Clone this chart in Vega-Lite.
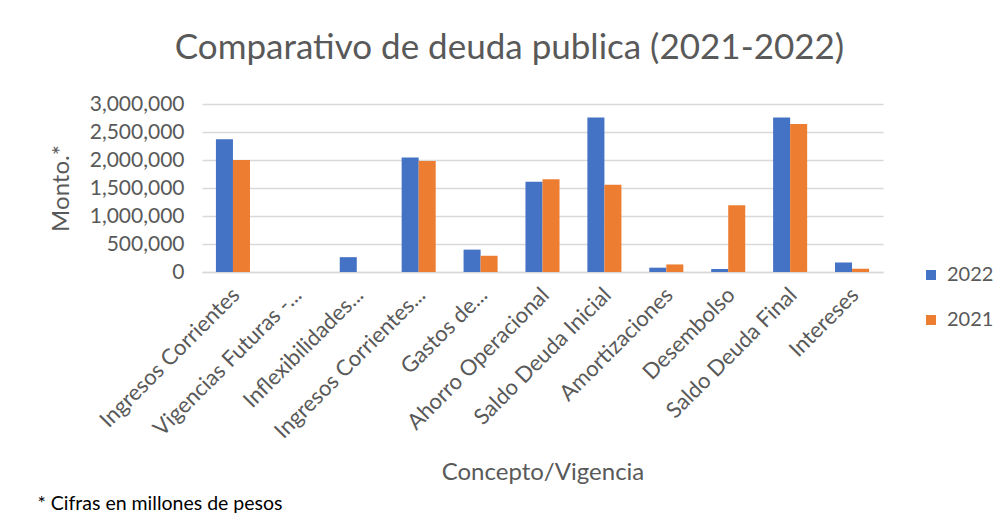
{
  "$schema": "https://vega.github.io/schema/vega-lite/v6.json",
  "width": 681,
  "height": 168,
  "autosize": {"type": "none"},
  "padding": {"left": 202, "top": 104, "right": 122, "bottom": 244},
  "background": "white",
  "config": {
    "font": "Lato",
    "view": {"stroke": null},
    "axis": {"labelColor": "#595959", "titleColor": "#595959", "titleFontWeight": "normal"}
  },
  "title": {
    "text": "Comparativo de deuda publica (2021-2022)",
    "fontSize": 35,
    "font": "Lato",
    "fontWeight": "normal",
    "color": "#595959",
    "anchor": "middle",
    "frame": "group",
    "dx": -33,
    "offset": 27
  },
  "data": {
    "values": [
      {"concepto": "Ingresos Corrientes", "year": "2022", "monto": 2370000},
      {"concepto": "Ingresos Corrientes", "year": "2021", "monto": 2000000},
      {"concepto": "Vigencias Futuras -...", "year": "2022", "monto": 0},
      {"concepto": "Vigencias Futuras -...", "year": "2021", "monto": 0},
      {"concepto": "Inflexibilidades...", "year": "2022", "monto": 265000},
      {"concepto": "Inflexibilidades...", "year": "2021", "monto": 0},
      {"concepto": "Ingresos Corrientes...", "year": "2022", "monto": 2045000},
      {"concepto": "Ingresos Corrientes...", "year": "2021", "monto": 1980000},
      {"concepto": "Gastos de...", "year": "2022", "monto": 400000},
      {"concepto": "Gastos de...", "year": "2021", "monto": 290000},
      {"concepto": "Ahorro Operacional", "year": "2022", "monto": 1610000},
      {"concepto": "Ahorro Operacional", "year": "2021", "monto": 1655000},
      {"concepto": "Saldo Deuda Inicial", "year": "2022", "monto": 2760000},
      {"concepto": "Saldo Deuda Inicial", "year": "2021", "monto": 1560000},
      {"concepto": "Amortizaciones", "year": "2022", "monto": 77000},
      {"concepto": "Amortizaciones", "year": "2021", "monto": 135000},
      {"concepto": "Desembolso", "year": "2022", "monto": 55000},
      {"concepto": "Desembolso", "year": "2021", "monto": 1190000},
      {"concepto": "Saldo Deuda Final", "year": "2022", "monto": 2760000},
      {"concepto": "Saldo Deuda Final", "year": "2021", "monto": 2645000},
      {"concepto": "Intereses", "year": "2022", "monto": 170000},
      {"concepto": "Intereses", "year": "2021", "monto": 58000}
    ]
  },
  "layer": [
    {
      "mark": {"type": "bar"},
      "encoding": {
        "x": {
          "field": "concepto",
          "type": "nominal",
          "sort": null,
          "scale": {"paddingInner": 0.45, "paddingOuter": 0.225},
          "axis": {
            "orient": "bottom",
            "title": "Concepto/Vigencia",
            "titleFontSize": 24,
            "titlePadding": 18,
            "labelAngle": -45,
            "labelAlign": "right",
            "labelBaseline": "top",
            "labelFontSize": 22,
            "labelPadding": 12,
            "labelOffset": -4,
            "labelLimit": 300,
            "ticks": false,
            "domain": true,
            "domainColor": "#D9D9D9",
            "domainWidth": 1.5,
            "grid": false
          }
        },
        "xOffset": {"field": "year", "type": "nominal", "sort": ["2022", "2021"]},
        "y": {
          "field": "monto",
          "type": "quantitative",
          "scale": {"domain": [0, 3000000], "nice": false},
          "axis": {
            "title": "Monto.*",
            "titleFontSize": 24,
            "titlePadding": 16,
            "values": [0, 500000, 1000000, 1500000, 2000000, 2500000, 3000000],
            "format": ",.0f",
            "labelFontSize": 21,
            "labelPadding": 18,
            "ticks": false,
            "domain": false,
            "grid": true,
            "gridColor": "#D9D9D9",
            "gridWidth": 1.5
          }
        },
        "color": {
          "field": "year",
          "type": "nominal",
          "scale": {"domain": ["2022", "2021"], "range": ["#4472C4", "#ED7D31"]},
          "legend": {
            "title": null,
            "orient": "none",
            "legendX": 719,
            "legendY": 161,
            "padding": 0,
            "symbolType": "square",
            "symbolSize": 100,
            "symbolStrokeWidth": 0,
            "labelFontSize": 20,
            "labelColor": "#595959",
            "labelOffset": 6,
            "rowPadding": 25
          }
        }
      }
    },
    {
      "mark": {"type": "rule", "opacity": 0},
      "encoding": {
        "x": {
          "field": "concepto",
          "type": "nominal",
          "sort": null,
          "axis": {
            "orient": "bottom",
            "title": "* Cifras en millones de pesos",
            "titleColor": "#000000",
            "titleFontSize": 19.5,
            "titleAnchor": "start",
            "titleAlign": "left",
            "titleBaseline": "alphabetic",
            "titleX": -165,
            "titleY": 237,
            "labels": false,
            "ticks": false,
            "domain": false,
            "grid": false
          }
        },
        "y": {
          "datum": 0,
          "type": "quantitative",
          "axis": {
            "title": "Monto.*",
            "titleFontSize": 24,
            "titlePadding": 16,
            "values": [0, 500000, 1000000, 1500000, 2000000, 2500000, 3000000],
            "format": ",.0f",
            "labelFontSize": 21,
            "labelPadding": 18,
            "ticks": false,
            "domain": false,
            "grid": true,
            "gridColor": "#D9D9D9",
            "gridWidth": 1.5
          }
        },
        "y2": {"datum": 0}
      }
    }
  ],
  "resolve": {"axis": {"x": "independent"}}
}
